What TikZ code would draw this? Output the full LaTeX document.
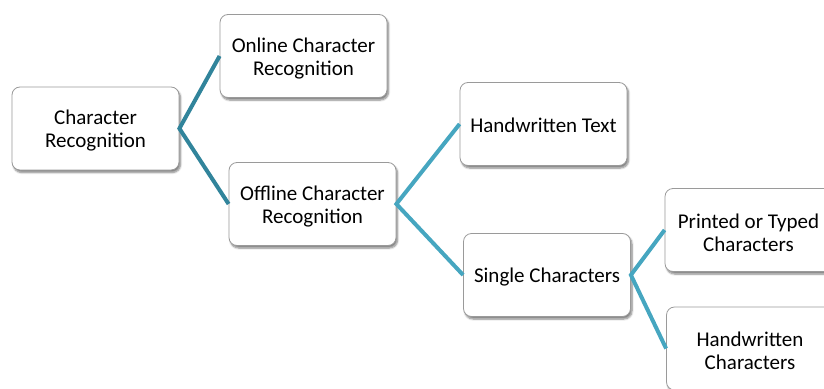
\documentclass[tikz,border=0pt]{standalone}
\usepackage{fontspec}
\setmainfont{Carlito}
\usetikzlibrary{shadows.blur}
\definecolor{edgedark}{HTML}{31849B}
\definecolor{edgelight}{HTML}{46A6C0}
\definecolor{boxline}{HTML}{9A9A9A}
\tikzset{
  item/.style={draw=boxline, line width=0.8pt, fill=white, rounded corners=8pt,
    minimum width=167pt, minimum height=83pt,
    blur shadow={shadow xshift=1.5pt, shadow yshift=-2.5pt, shadow blur steps=6,
      shadow blur extra rounding=2pt, shadow opacity=50}},
  caption/.style={align=center, inner sep=0pt, font=\fontsize{21}{23}\selectfont},
  linkA/.style={draw=edgedark, line width=4pt, line join=miter},
  linkB/.style={draw=edgelight, line width=4pt, line join=miter}
}
\begin{document}
\begin{tikzpicture}[x=1pt, y=-1pt]
  \useasboundingbox (0,0) rectangle (824,388);
  \clip (0,0) rectangle (824,388);
  % boxes of the tree of recognition categories
  \node[item] (root)    at (95.5,128.5) {};
  \node[item] (online)  at (303.5,56)   {};
  \node[item] (offline) at (312.5,204)  {};
  \node[item] (hwtext)  at (543.5,124)  {};
  \node[item] (single)  at (547,275)    {};
  \node[item] (printed) at (748.5,230)  {};
  \node[item] (hwchar)  at (750,348.5)  {};
  % their captions, set a little below the box centres
  \node[caption] (rootT)    at ([yshift=-2.5pt]root.center)    {Character\\Recognition};
  \node[caption] (onlineT)  at ([yshift=-2.5pt]online.center)  {Online Character\\Recognition};
  \node[caption] (offlineT) at ([yshift=-2.5pt]offline.center) {Offline Character\\Recognition};
  \node[caption] (hwtextT)  at ([yshift=-1.5pt]hwtext.center)  {Handwritten Text};
  \node[caption] (singleT)  at ([yshift=-2.5pt]single.center)  {Single Characters};
  \node[caption] (printedT) at ([yshift=-2.5pt]printed.center) {Printed or Typed\\Characters};
  \node[caption] (hwcharT)  at ([yshift=-2.5pt]hwchar.center)  {Handwritten\\Characters};
  % branches
  \draw[linkA] (online.west) -- (root.east) -- (offline.west);
  \draw[linkB] (hwtext.west) -- (offline.east) -- (single.west);
  \draw[linkB] (printed.west) -- (single.east) -- (hwchar.west);
\end{tikzpicture}
\end{document}
